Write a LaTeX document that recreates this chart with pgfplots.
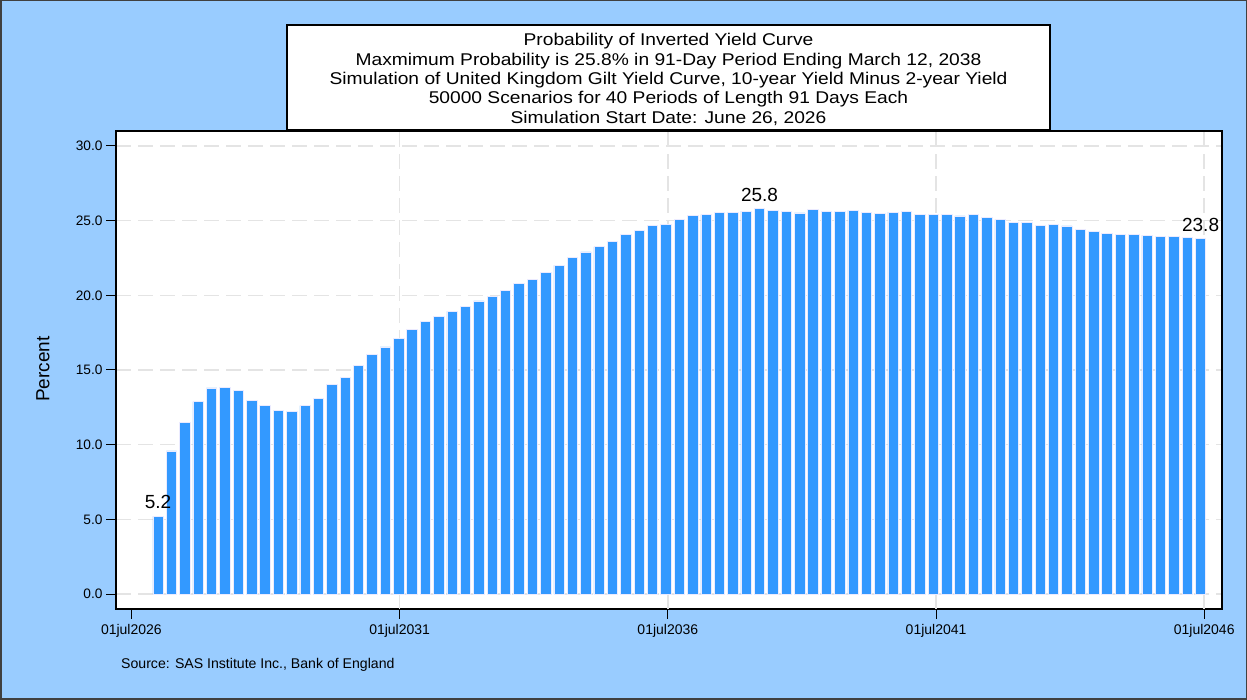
\documentclass[border=0pt]{standalone}
\usepackage{pgfplots}
\pgfplotsset{compat=1.18}
\usepackage{fontspec}
\setmainfont{Liberation Sans}
\newfontfamily\titlefont{Liberation Sans}[FakeStretch=1.13]
\definecolor{bgblue}{RGB}{153,204,255}
\definecolor{barblue}{RGB}{51,153,255}
\definecolor{gridgray}{RGB}{228,228,228}
\begin{document}
\begin{tikzpicture}
\fill[bgblue] (0,0) rectangle (1247pt,700pt);
\draw[black!75, line width=1.5pt] (0.75pt,0.75pt) rectangle (1246.25pt,699.25pt);
\begin{axis}[
  at={(116pt,91pt)}, anchor=south west,
  width=1106pt, height=478pt, scale only axis,
  xmin=-1.15, xmax=81.6, ymin=-1, ymax=31,
  axis background/.style={fill=white},
  axis line style={line width=1.5pt, black},
  tick pos=left, tick align=outside,
  major tick length=10pt,
  tick style={black, line width=1pt},
  ytick={0,5,10,15,20,25,30},
  /pgf/number format/assume math mode=true,
  yticklabel style={font=\fontsize{13.7}{15}\selectfont, /pgf/number format/.cd, fixed, fixed zerofill, precision=1},
  xtick={0,20.07,40.14,60.21,80.27},
  xticklabels={01jul2026,01jul2031,01jul2036,01jul2041,01jul2046},
  xticklabel style={font=\fontsize{14}{15}\selectfont, yshift=-2pt},
  extra x ticks={20.07,40.14,60.21,80.27},
  extra x tick labels={},
  extra x tick style={grid=major, major tick length=0pt},
  ymajorgrids,
  grid style={gridgray, line width=1.5pt, dash pattern=on 15pt off 7pt},
  clip=false,
]
\addplot[ybar, bar width=0.78, fill=barblue, draw=blue!8!white, line width=0.7pt] table {
x y
2 5.20
3 9.58
4 11.48
5 12.88
6 13.80
7 13.86
8 13.62
9 12.99
10 12.61
11 12.28
12 12.23
13 12.61
14 13.08
15 14.02
16 14.49
17 15.31
18 16.03
19 16.54
20 17.14
21 17.74
22 18.24
23 18.59
24 18.93
25 19.24
26 19.62
27 19.95
28 20.31
29 20.82
30 21.09
31 21.54
32 22.01
33 22.54
34 22.90
35 23.25
36 23.63
37 24.06
38 24.37
39 24.66
40 24.75
41 25.06
42 25.37
43 25.40
44 25.57
45 25.57
46 25.64
47 25.80
48 25.69
49 25.62
50 25.51
51 25.73
52 25.60
53 25.62
54 25.69
55 25.57
56 25.48
57 25.57
58 25.60
59 25.42
60 25.40
61 25.44
62 25.31
63 25.40
64 25.24
65 25.06
66 24.90
67 24.90
68 24.70
69 24.75
70 24.64
71 24.41
72 24.28
73 24.17
74 24.08
75 24.08
76 24.01
77 23.95
78 23.92
79 23.88
80 23.80
};
\addplot[draw=none, mark=none, nodes near coords, point meta=explicit symbolic,
  nodes near coords style={font=\fontsize{19}{21}\selectfont, anchor=south, inner sep=0pt, yshift=7pt}]
  table[meta=lab] {
x y lab
2 5.2 5.2
47 25.8 25.8
80 23.8 23.8
};
\end{axis}
\draw[black, line width=1.5pt, fill=white] (287pt,570pt) rectangle (1050pt,675pt);
\node[align=center, inner sep=0pt,
  font=\titlefont\fontsize{17}{19.3}\selectfont] at (668.5pt,620.5pt)
  {Probability of Inverted Yield Curve\\
   Maxmimum Probability is 25.8\% in 91-Day Period Ending March 12, 2038\\
   Simulation of United Kingdom Gilt Yield Curve, 10-year Yield Minus 2-year Yield\\
   50000 Scenarios for 40 Periods of Length 91 Days Each\\
   Simulation Start Date: June 26, 2026};
\node[rotate=90, font=\fontsize{19}{21}\selectfont] at (43pt,331pt) {Percent};
\node[anchor=west, font=\fontsize{14.1}{16}\selectfont, inner sep=0pt] at (121pt,35pt) {Source: SAS Institute Inc., Bank of England};
\end{tikzpicture}
\end{document}
